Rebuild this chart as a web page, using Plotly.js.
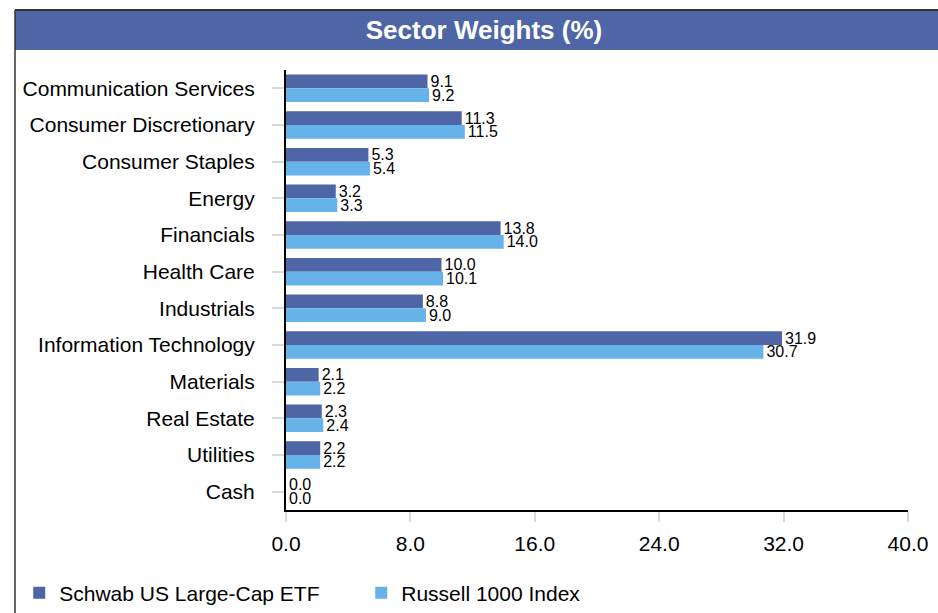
<!DOCTYPE html>
<html>
<head>
<meta charset="utf-8">
<script src="https://cdn.plot.ly/plotly-3.0.1.min.js"></script>
<style>html,body{margin:0;padding:0;background:#fff;}#chart{width:938px;height:613px;}</style>
</head>
<body>
<div id="chart"></div>
<script>
var categories = ["Communication Services", "Consumer Discretionary", "Consumer Staples", "Energy", "Financials", "Health Care", "Industrials", "Information Technology", "Materials", "Real Estate", "Utilities", "Cash"];
var schwabValues = [9.1, 11.3, 5.3, 3.2, 13.8, 10.0, 8.8, 31.9, 2.1, 2.3, 2.2, 0.0];
var russellValues = [9.2, 11.5, 5.4, 3.3, 14.0, 10.1, 9.0, 30.7, 2.2, 2.4, 2.2, 0.0];
var seriesNames = ["Schwab US Large-Cap ETF", "Russell 1000 Index"];
var xTickValues = [0, 8, 16, 24, 32, 40];

var font = "Arial, 'Liberation Sans', sans-serif";
var dark = "#4f66a6";
var light = "#65b3e9";

function barTrace(name, vals, color) {
  return {
    type: "bar", orientation: "h", name: name,
    y: categories, x: vals,
    marker: {color: color, line: {width: 0}},
    text: vals.map(function (v) { return v.toFixed(1); }),
    textposition: "outside", constraintext: "none", cliponaxis: false,
    textfont: {family: font, size: 16, color: "#000"},
    hoverinfo: "x+name"
  };
}

var data = [barTrace(seriesNames[0], schwabValues, dark), barTrace(seriesNames[1], russellValues, light)];

var layout = {
  width: 938, height: 613,
  margin: {l: 286, r: 30, t: 70, b: 103, autoexpand: false},
  paper_bgcolor: "#fff", plot_bgcolor: "#fff",
  font: {family: font, color: "#000"},
  barmode: "group", bargap: 0.25, bargroupgap: 0,
  title: {text: "<b>Sector Weights (%)</b>", font: {family: font, size: 26, color: "#fff"},
          x: 0.516, xref: "container", xanchor: "center", y: 0.951, yanchor: "middle"},
  xaxis: {range: [0, 40], tickvals: xTickValues, tickformat: ".1f",
          showgrid: false, zeroline: false, showline: true, linecolor: "#000", linewidth: 2,
          ticks: "outside", ticklen: 10, tickwidth: 2, tickcolor: "#d9d9d9",
          tickfont: {family: font, size: 21, color: "#000"}, ticklabelstandoff: 4, fixedrange: true},
  yaxis: {autorange: "reversed", showgrid: false, zeroline: false, showline: true, linecolor: "#000", linewidth: 2,
          ticks: "outside", ticklen: 12, tickwidth: 2, tickcolor: "#d9d9d9",
          tickfont: {family: font, size: 21, color: "#000"}, ticklabelstandoff: 13, fixedrange: true},
  showlegend: true,
  legend: {orientation: "h", xref: "paper", yref: "paper", x: -0.4289, xanchor: "left", y: -0.1886, yanchor: "middle",
           font: {family: font, size: 21, color: "#000"}, traceorder: "normal", entrywidth: 297},
  shapes: [
    {type: "rect", xref: "paper", yref: "paper", x0: -0.4357, x1: 1.05, y0: 1.0455, y1: 1.1364,
     fillcolor: dark, line: {width: 0}, layer: "below"},
    {type: "line", xref: "paper", yref: "paper", x0: -0.4357, x1: 1.05, y0: 1.1364, y1: 1.1364,
     line: {color: "#333", width: 2}},
    {type: "line", xref: "paper", yref: "paper", x0: -0.4357, x1: -0.4357, y0: -0.24, y1: 1.1364,
     line: {color: "#333", width: 1.5}}
  ]
};

Plotly.newPlot("chart", data, layout, {displayModeBar: false, staticPlot: true});
</script>
</body>
</html>
